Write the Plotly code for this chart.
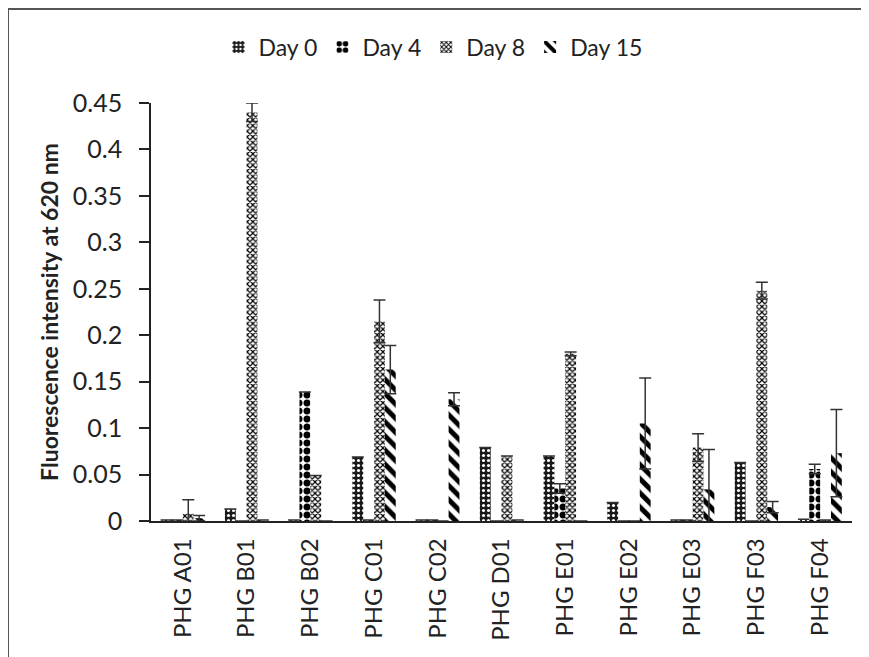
import plotly.graph_objects as go

categories = ["PHG A01", "PHG B01", "PHG B02", "PHG C01", "PHG C02", "PHG D01",
              "PHG E01", "PHG E02", "PHG E03", "PHG F03", "PHG F04"]

day0 = [0.001, 0.013, 0.001, 0.069, 0.001, 0.079, 0.070, 0.020, 0.001, 0.063, 0.002]
day0_err = [0, 0, 0, 0, 0, 0, 0, 0, 0, 0, 0]
day4 = [0.001, 0.0, 0.139, 0.001, 0.001, 0.0, 0.035, 0.0, 0.001, 0.0, 0.056]
day4_err = [0, 0, 0, 0, 0, 0, 0.005, 0, 0, 0, 0.005]
day8 = [0.008, 0.440, 0.049, 0.215, 0.0, 0.070, 0.180, 0.0, 0.079, 0.248, 0.001]
day8_err = [0.015, 0.010, 0, 0.023, 0, 0, 0.002, 0, 0.015, 0.009, 0]
day15 = [0.003, 0.001, 0.0, 0.163, 0.131, 0.001, 0.0, 0.105, 0.034, 0.015, 0.073]
day15_err = [0.003, 0, 0, 0.026, 0.007, 0, 0, 0.049, 0.043, 0.006, 0.047]

series = [
    ("Day 0", day0, day0_err, dict(color="#1a1a1a", pattern=dict(shape=".", fgcolor="#ffffff", size=5, solidity=0.3, fgopacity=1))),
    ("Day 4", day4, day4_err, dict(color="#ffffff", pattern=dict(shape=".", fgcolor="#000000", size=8, solidity=0.6, fgopacity=1))),
    ("Day 8", day8, day8_err, dict(color="#ffffff", pattern=dict(shape="x", fgcolor="#000000", size=4, solidity=0.5, fgopacity=1))),
    ("Day 15", day15, day15_err, dict(color="#ffffff", pattern=dict(shape="\\", fgcolor="#000000", size=10, solidity=0.5, fgopacity=1))),
]

fig = go.Figure()
for name, vals, errs, mk in series:
    fig.add_trace(go.Bar(
        name=name, x=categories, y=vals,
        marker=dict(color=mk["color"], pattern=mk["pattern"], line=dict(width=0)),
        error_y=dict(type="data", array=errs, visible=True, color="#333333", thickness=1.5, width=6),
    ))

# page has an 8px body margin; work in page pixels and convert
OFF = 8
W, H = 869 - OFF, 657 - OFF
L, T = 151 - OFF, 103 - OFF
R = 869 - 852
B = 657 - 521
pw, ph = W - L - R, H - T - B

def px(x):
    return (x - OFF - L) / pw

def py(y):
    return (H - B - (y - OFF)) / ph

fig.update_layout(
    width=W, height=H,
    margin=dict(l=L, r=R, t=T, b=B),
    paper_bgcolor="white", plot_bgcolor="white",
    barmode="group", bargap=0.32, bargroupgap=0.0,
    font=dict(family="Lato, Carlito, Liberation Sans, sans-serif", color="#222222"),
    legend=dict(orientation="h", x=px(433), xanchor="center", y=py(47), yanchor="middle",
                font=dict(size=23), traceorder="normal", itemwidth=30),
    showlegend=True,
    xaxis=dict(
        showline=True, linecolor="#222222", linewidth=1.5,
        tickangle=-90, tickfont=dict(size=24), ticks="",
        ticklabelstandoff=6, showgrid=False,
    ),
    yaxis=dict(
        range=[0, 0.45], dtick=0.05, tickformat="~g",
        showline=True, linecolor="#222222", linewidth=1.5,
        ticks="outside", ticklen=10, tickcolor="#222222", tickwidth=1.5,
        tickfont=dict(size=25), ticklabelstandoff=12, showgrid=False, zeroline=False,
        title=dict(text="<b>Fluorescence intensity at 620 nm</b>", font=dict(size=23), standoff=8),
    ),
    shapes=[
        dict(type="line", xref="paper", yref="paper", x0=px(7), x1=px(880), y0=py(9), y1=py(9),
             line=dict(color="#555555", width=2)),
        dict(type="line", xref="paper", yref="paper", x0=px(8), x1=px(8), y0=py(9), y1=py(670),
             line=dict(color="#555555", width=2)),
    ],
)

fig.write_html("out.html")
